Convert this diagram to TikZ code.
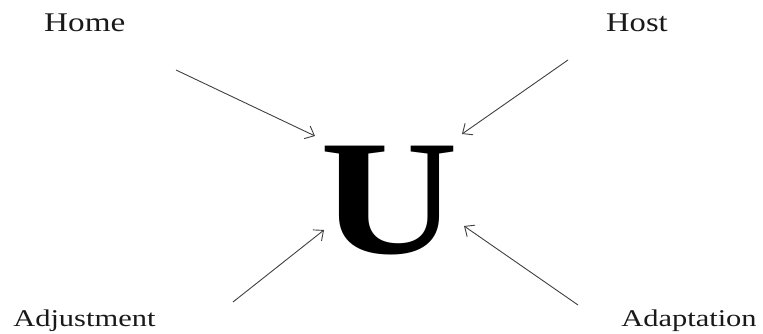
\documentclass[tikz,border=0pt]{standalone}
\usepackage{fontspec}
\setmainfont{Liberation Serif}
\usetikzlibrary{arrows.meta}
\begin{document}
\begin{tikzpicture}[x=1pt,y=1pt,
  toplbl/.style={font=\fontsize{27}{30}\selectfont, xscale=1.23, inner sep=0pt, anchor=base west, text=black!90},
  botlbl/.style={font=\fontsize{24}{28}\selectfont, xscale=1.27, inner sep=0pt, anchor=base west, text=black!90},
  arr/.style={draw=black!75, line width=0.9pt, -{Straight Barb[length=8pt,width=14pt]}}]
\useasboundingbox (0,0) rectangle (763,334);
\node[toplbl] (home) at (44,302) {Home};
\node[toplbl, xscale=0.98] (host) at (606,302) {Host};
\node[botlbl] (adj) at (13,7) {Adjustment};
\node[botlbl] (adap) at (621,7) {Adaptation};
\node[inner sep=0pt, anchor=base, font=\fontsize{164}{164}\selectfont\bfseries, xscale=1.165] (u) at (389,80) {U};
\coordinate (a1s) at (176,264); \coordinate (a1e) at (315,198);
\coordinate (a2s) at (568,274); \coordinate (a2e) at (462,200);
\coordinate (a3s) at (233,32);  \coordinate (a3e) at (324,104);
\coordinate (a4s) at (578,29);  \coordinate (a4e) at (464,108);
\draw[arr] (a1s) -- (a1e);
\draw[arr] (a2s) -- (a2e);
\draw[arr] (a3s) -- (a3e);
\draw[arr] (a4s) -- (a4e);
\end{tikzpicture}
\end{document}
